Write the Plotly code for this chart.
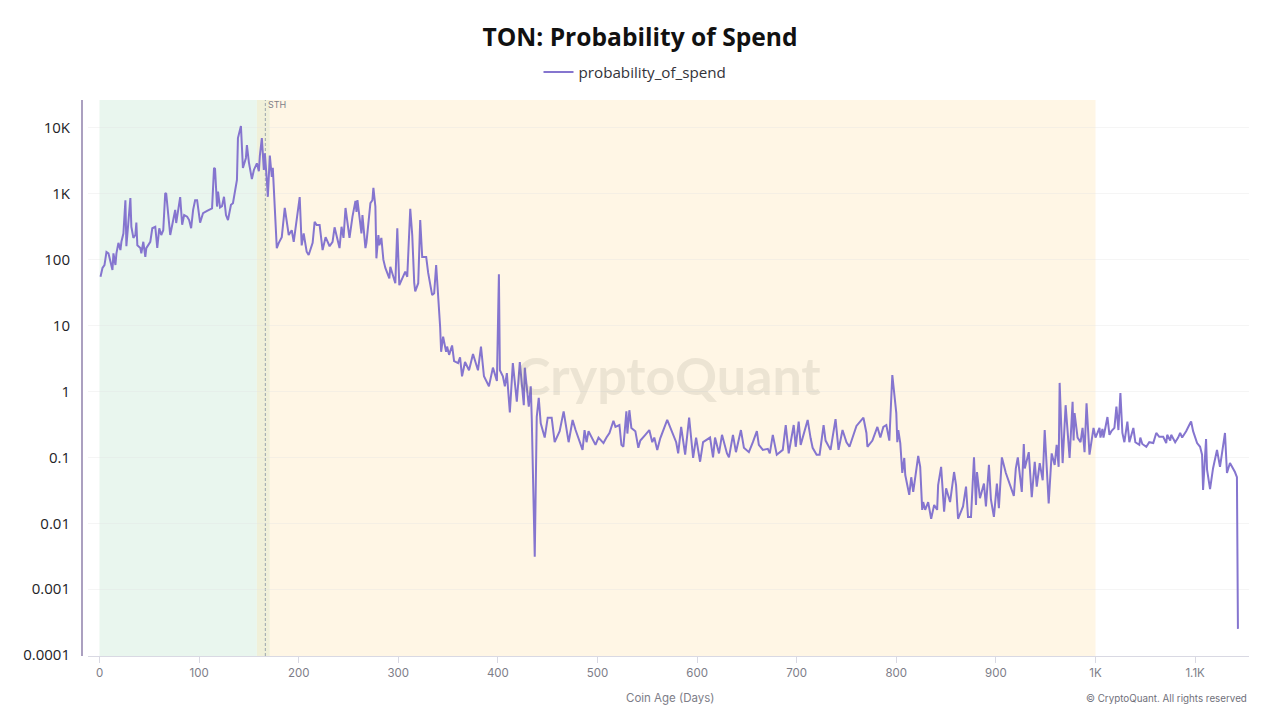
import plotly.graph_objects as go

TITLE = "TON: Probability of Spend"
SERIES_NAME = "probability_of_spend"
X_TITLE = "Coin Age (Days)"
WATERMARK = "CryptoQuant"
COPYRIGHT = "© CryptoQuant. All rights reserved"

days = [1,3,5,7,9,11,13,14,16,17,19,21,22,24,26,27,29,31,32,34,36,37,38,41,42,44,46,47,51,53,56,58,60,62,64,66,67,71,74,76,77,81,83,85,88,90,92,94,
96,98,101,104,108,113,115,116,118,119,121,123,125,127,129,132,134,138,139,142,144,147,148,150,153,155,158,160,161,163,165,166,168,169,171,173,174,178,180,183,186,190,193,195,
201,203,205,208,210,214,216,218,221,224,227,231,234,236,241,243,245,247,251,254,257,258,259,261,263,264,267,268,272,274,275,277,278,280,281,283,285,287,291,292,295,297,299,301,307,309,312,314,316,317,320,322,324,328,330,334,336,338,342,343,345,348,349,351,354,356,360,362,364,367,371,375,380,383,386,391,395,399,401,402,405,407,409,412,415,419,422,426,427,431,433,434,437,439,441,443,447,450,454,457,
462,466,471,475,478,485,487,489,491,496,498,501,506,509,512,516,518,522,524,526,529,530,532,534,538,541,543,548,552,555,557,560,563,570,574,579,581,584,588,592,
596,599,603,606,613,616,618,622,625,630,632,636,639,644,647,652,656,660,662,666,671,673,676,680,686,689,692,697,699,702,704,711,714,716,720,723,727,729,734,739,742,746,750,753,760,765,767,770,771,776,781,784,787,790,793,796,
800,801,802,804,806,808,809,813,815,817,820,822,824,826,827,829,832,835,838,841,842,845,848,850,854,858,860,862,867,870,872,875,878,880,881,884,888,890,893,895,898,901,903,906,910,918,920,922,926,928,929,933,936,939,941,944,947,949,953,956,959,961,963,964,967,970,974,977,978,979,982,985,987,989,991,994,998,
1000,1002,1004,1005,1007,1008,1010,1012,1014,1016,1019,1021,1023,1025,1027,1029,1032,1034,1038,1040,1044,1045,1047,1051,1054,1058,1061,1064,1068,1071,1072,1075,1076,1080,1083,1085,1087,1091,1095,1096,1098,1100,1102,1105,1107,1108,1111,1112,1115,1118,1122,1125,1128,1130,1132,1135,1140,1142,1143]

probability = [55,75,83,131,125,92,70,125,83,125,180,140,187,250,800,160,400,860,316,214,237,365,166,151,125,187,110,150,187,300,316,151,300,237,280,1030,1000,237,400,570,360,890,340,475,450,400,300,570,
800,800,365,510,550,600,2470,2400,640,1080,620,650,900,475,400,680,720,1620,7000,10700,2470,3500,5500,3000,1670,2300,2900,2200,3800,7000,2300,4100,1620,900,3800,1800,2470,150,180,220,610,237,280,187,
890,165,250,132,118,180,376,335,335,140,220,160,187,310,150,316,214,610,214,450,780,530,800,430,250,475,150,180,720,800,1230,640,105,237,166,214,100,75,52,78,55,44,300,41,66,55,590,237,44,33,44,400,110,110,63,29,31,83,9.6,4,6.8,4,4.8,3.6,5,2.9,2.7,3.3,1.7,2.8,2.1,3.7,2.1,4.8,1.7,1.2,2.3,1.45,60,2.1,1.7,1.2,1.9,0.48,2.7,0.7,2.8,0.62,2.3,0.59,1.2,0.39,0.0031,0.41,0.8,0.33,0.2,0.4,0.4,0.17,
0.25,0.5,0.17,0.37,0.26,0.13,0.26,0.17,0.25,0.17,0.155,0.2,0.165,0.2,0.235,0.36,0.29,0.31,0.155,0.145,0.5,0.23,0.52,0.28,0.25,0.14,0.18,0.22,0.26,0.17,0.2,0.13,0.195,0.37,0.26,0.17,0.115,0.29,0.11,0.4,
0.098,0.2,0.086,0.17,0.2,0.1,0.2,0.115,0.22,0.115,0.1,0.22,0.12,0.26,0.14,0.12,0.17,0.25,0.155,0.13,0.135,0.115,0.22,0.11,0.13,0.31,0.115,0.31,0.145,0.35,0.155,0.37,0.195,0.14,0.11,0.11,0.31,0.18,0.13,0.38,0.13,0.26,0.17,0.145,0.3,0.37,0.4,0.235,0.145,0.18,0.29,0.2,0.29,0.31,0.18,1.78,
0.47,0.17,0.26,0.165,0.058,0.098,0.054,0.027,0.05,0.03,0.065,0.105,0.072,0.016,0.021,0.016,0.021,0.0117,0.019,0.016,0.038,0.072,0.015,0.034,0.021,0.06,0.038,0.0117,0.018,0.036,0.0125,0.0125,0.1,0.019,0.06,0.024,0.04,0.018,0.077,0.023,0.0125,0.04,0.017,0.1,0.058,0.026,0.068,0.1,0.03,0.16,0.068,0.12,0.025,0.086,0.036,0.082,0.045,0.26,0.02,0.115,0.077,0.155,0.072,1.35,0.082,0.62,0.098,0.7,0.18,0.47,0.2,0.17,0.28,0.12,0.66,0.11,0.28,
0.2,0.235,0.28,0.2,0.27,0.2,0.28,0.41,0.22,0.25,0.28,0.59,0.26,0.95,0.235,0.17,0.35,0.17,0.28,0.17,0.155,0.2,0.16,0.145,0.17,0.165,0.235,0.205,0.205,0.165,0.22,0.18,0.22,0.17,0.2,0.235,0.2,0.25,0.33,0.35,0.25,0.2,0.165,0.145,0.11,0.032,0.19,0.065,0.033,0.068,0.13,0.072,0.14,0.235,0.058,0.082,0.06,0.05,0.00025]

x_ticks = [0,100,200,300,400,500,600,700,800,900,1000,1100]
x_labels = ["0","100","200","300","400","500","600","700","800","900","1K","1.1K"]
y_ticks = [0.0001,0.001,0.01,0.1,1,10,100,1000,10000]
y_labels = ["0.0001","0.001","0.01","0.1","1","10","100","1K","10K"]

L, R, T, B = 88, 1249, 100, 656
W = R - L
H = B - T

fig = go.Figure(go.Scatter(x=days, y=probability, mode="lines", name=SERIES_NAME,
                           line=dict(color="#8575cf", width=2), showlegend=True))

def band(x0, x1, color):
    return dict(type="rect", xref="x", yref="paper", x0=x0, x1=x1, y0=0, y1=1,
                fillcolor=color, line_width=0, layer="below")

shapes = [band(0, 158, "#e9f6ee"), band(158, 171, "#f0f0d9"), band(171, 1000, "#fff6e5"),
          dict(type="line", xref="x", yref="paper", x0=166.5, x1=166.5, y0=0, y1=1,
               line=dict(color="#9aa5ac", width=1, dash="3px,2px"), layer="below"),
          dict(type="line", xref="paper", yref="paper", x0=(82-L)/W, x1=(82-L)/W, y0=0, y1=1,
               line=dict(color="#8f80ab", width=1.5))]

annotations = [
    dict(text="STH", xref="x", yref="paper", x=167, y=1 - 5/H, xanchor="left", yanchor="middle",
         showarrow=False, font=dict(size=9, color="#808088", family="Inter")),
    dict(text=WATERMARK, xref="paper", yref="paper", x=(668-L)/W, y=(B-375)/H, xanchor="center", yanchor="middle",
         showarrow=False, font=dict(size=52, color="rgba(110,105,95,0.13)", family="Lato", weight=700)),
    dict(text=X_TITLE, xref="paper", yref="paper", x=(670-L)/W, y=(B-698)/H, xanchor="center", yanchor="middle",
         showarrow=False, font=dict(size=11.5, color="#7d7d88", family="Inter")),
    dict(text=COPYRIGHT, xref="paper", yref="paper", x=1, y=(B-698)/H, xanchor="right", yanchor="middle",
         showarrow=False, font=dict(size=9.8, color="#70707a", family="Inter")),
]

fig.update_layout(
    width=1280, height=720, margin=dict(l=L, r=1280-R, t=T, b=720-B, autoexpand=False),
    paper_bgcolor="white", plot_bgcolor="white",
    title=dict(text=f"<b>{TITLE}</b>", x=0.5, xanchor="center", xref="container",
               y=1-37/720, yanchor="middle", font=dict(size=24.6, color="#111111", family="Open Sans")),
    legend=dict(orientation="h", x=(635-L)/W, xanchor="center", y=(B-72)/H, yanchor="middle",
                font=dict(size=15.2, color="#33333a", family="Open Sans"), itemwidth=30, bgcolor="rgba(0,0,0,0)"),
    shapes=shapes, annotations=annotations,
    xaxis=dict(range=[(L-99.5)/0.996, (R-99.5)/0.996], tickvals=x_ticks, ticktext=x_labels,
               showgrid=False, zeroline=False, showline=True, linecolor="#d9d9e3", linewidth=1,
               ticks="outside", ticklen=6, tickcolor="#d9d9e3",
               tickfont=dict(size=11.5, color="#7d7d88", family="Inter")),
    yaxis=dict(type="log", range=[(391.5-B)/65.9, (391.5-T)/65.9], tickvals=y_ticks, ticktext=y_labels,
               showgrid=True, gridcolor="rgba(225,225,225,0.35)", gridwidth=1, zeroline=False, showline=False,
               ticks="outside", ticklen=14, tickcolor="rgba(0,0,0,0)",
               tickfont=dict(size=15, color="#222226", family="Open Sans")),
)

fig.write_html("out.html", config=dict(displayModeBar=False),
               post_script="document.body.style.margin='0';")
